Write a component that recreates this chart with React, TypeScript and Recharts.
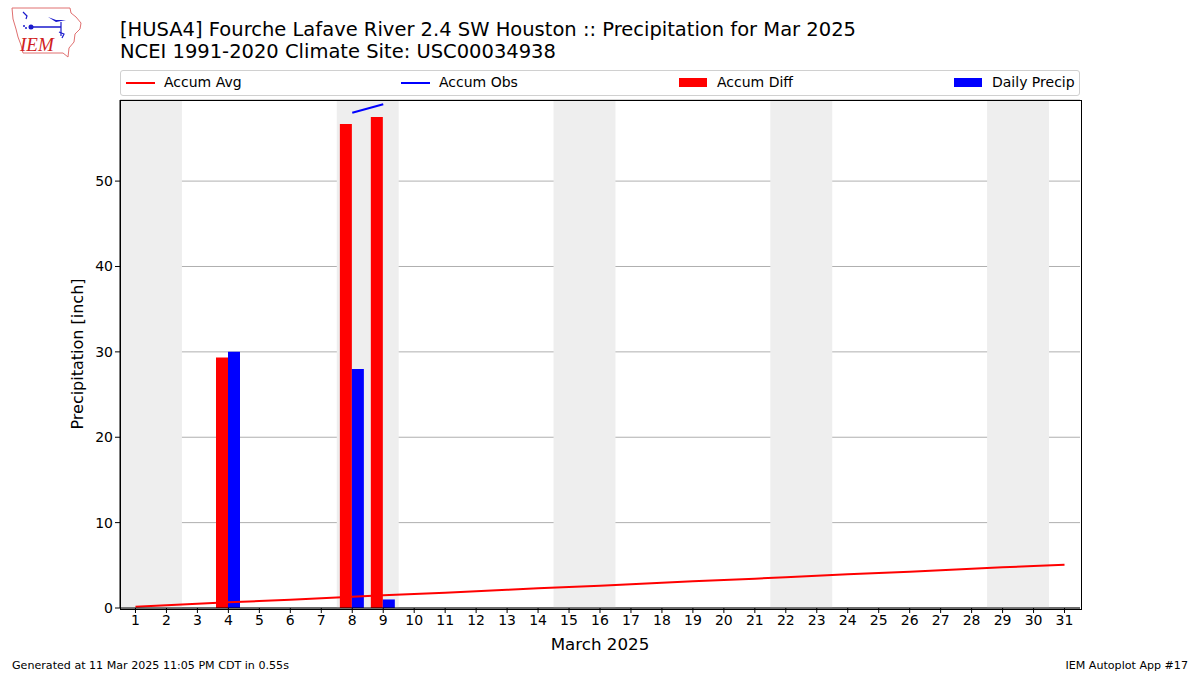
import {
  ComposedChart,
  Bar,
  Line,
  XAxis,
  YAxis,
  CartesianGrid,
  ReferenceArea
} from 'recharts'

const days = [
  1, 2, 3, 4, 5, 6, 7, 8, 9, 10, 11, 12, 13, 14, 15, 16, 17, 18, 19, 20, 21,
  22, 23, 24, 25, 26, 27, 28, 29, 30, 31
]

// climate average accumulation (inch)
const accumAvg = [
  0.16, 0.33, 0.49, 0.66, 0.82, 0.98, 1.15, 1.31, 1.48, 1.64, 1.8, 1.97, 2.13,
  2.3, 2.46, 2.62, 2.79, 2.95, 3.12, 3.28, 3.44, 3.61, 3.77, 3.94, 4.1, 4.26,
  4.43, 4.59, 4.76, 4.92, 5.08
]

// observed accumulation, only days 8-9 plotted
const accumObs: (number | null)[] = [
  null, null, null, null, null, null, null, 58.0, 59.0, null, null, null, null,
  null, null, null, null, null, null, null, null, null, null, null, null, null,
  null, null, null, null, null
]

const accumDiff: (number | null)[] = [
  null, null, null, 29.34, null, null, null, 56.7, 57.5, null, null, null,
  null, null, null, null, null, null, null, null, null, null, null, null, null,
  null, null, null, null, null, null
]

const dailyPrecip: (number | null)[] = [
  null, null, null, 30.0, null, null, null, 28.0, 1.0, null, null, null, null,
  null, null, null, null, null, null, null, null, null, null, null, null, null,
  null, null, null, null, null
]

const weekends = [
  [1, 2],
  [8, 9],
  [15, 16],
  [22, 23],
  [29, 30]
]

const yTicks = [0, 10, 20, 30, 40, 50]

const data = days.map((d, i) => ({
  day: d,
  avg: accumAvg[i],
  obs: accumObs[i],
  diff: accumDiff[i],
  precip: dailyPrecip[i]
}))

const font = 'DejaVu Sans, sans-serif'

const Logo = () => (
  <svg
    width={80}
    height={60}
    style={{ position: 'absolute', left: 4, top: 2 }}
  >
    <polygon
      points='8,6 66,6 67,11 72,15 77,21 76,27 71,32 70,40 65,46 64,55 59,51 19,51 17,43 14,35 12,27 9,17'
      fill='white'
      stroke='#e07070'
      strokeWidth={1}
    />
    <line x1={27} y1={25} x2={57} y2={25} stroke='#1a1acc' strokeWidth={1.5} />
    <circle cx={27} cy={25} r={2.5} fill='#1a1acc' />
    <path d='M19,10 L23,14 L22,17' stroke='#1a1acc' fill='none' strokeWidth={1.2} />
    <path d='M44,15 L52,18 L62,18 L52,20 Z' fill='#1a1acc' />
    <line x1={57} y1={20} x2={57} y2={34} stroke='#1a1acc' strokeWidth={1.2} />
    <path d='M55,30 L60,32 L58,36' stroke='#1a1acc' fill='none' strokeWidth={1.2} />
    <circle cx={20} cy={24} r={1} fill='#1a1acc' />
    <circle cx={22} cy={26} r={1} fill='#1a1acc' />
    <text
      x={16}
      y={49}
      fontFamily='Liberation Serif, serif'
      fontStyle='italic'
      fontSize={19}
      fill='#d02020'
    >
      IEM
    </text>
  </svg>
)

const LegendBox = () => {
  const item = (left: number, kind: 'line' | 'rect', color: string, label: string) => (
    <div key={label}>
      {kind === 'line' ? (
        <div
          style={{
            position: 'absolute',
            left,
            top: 11,
            width: 29,
            height: 2,
            background: color
          }}
        />
      ) : (
        <div
          style={{
            position: 'absolute',
            left,
            top: 7,
            width: 28,
            height: 9,
            background: color
          }}
        />
      )}
      <div
        style={{
          position: 'absolute',
          left: left + 38,
          top: 3,
          fontSize: 14,
          fontFamily: font,
          whiteSpace: 'nowrap'
        }}
      >
        {label}
      </div>
    </div>
  )
  return (
    <div
      style={{
        position: 'absolute',
        left: 120,
        top: 70,
        width: 958,
        height: 24,
        border: '1px solid #d0d0d0',
        borderRadius: 3,
        background: 'white'
      }}
    >
      {item(5, 'line', '#ff0000', 'Accum Avg')}
      {item(280, 'line', '#0000ff', 'Accum Obs')}
      {item(558, 'rect', '#ff0000', 'Accum Diff')}
      {item(833, 'rect', '#0000ff', 'Daily Precip')}
    </div>
  )
}

export default function App() {
  return (
    <div
      style={{
        position: 'absolute',
        left: 0,
        top: 0,
        width: 1200,
        height: 675,
        background: 'white',
        fontFamily: font
      }}
    >
      <Logo />
      <div
        style={{
          position: 'absolute',
          left: 120,
          top: 19,
          fontSize: 19.5,
          lineHeight: '22px',
          whiteSpace: 'nowrap'
        }}
      >
        [HUSA4] Fourche Lafave River 2.4 SW Houston :: Precipitation for Mar 2025
        <br />
        NCEI 1991-2020 Climate Site: USC00034938
      </div>
      <LegendBox />
      <div style={{ position: 'absolute', left: 0, top: 0 }}>
        <ComposedChart
          width={1200}
          height={675}
          data={data}
          margin={{ top: 100, right: 120, bottom: 27, left: 60 }}
          barCategoryGap='10%'
          barGap={0}
        >
          {weekends.map(([a, b]) => (
            <ReferenceArea
              key={a}
              x1={a}
              x2={b}
              fill='#eeeeee'
              fillOpacity={1}
              stroke='none'
            />
          ))}
          <CartesianGrid vertical={false} stroke='#b0b0b0' strokeWidth={1} />
          <XAxis
            dataKey='day'
            type='category'
            height={40}
            tickSize={5}
            interval={0}
            stroke='#000'
            tick={{ fill: '#000', fontSize: 14, fontFamily: font }}
          />
          <YAxis
            width={60}
            domain={[0, 59.5]}
            ticks={yTicks}
            tickSize={5}
            stroke='#000'
            allowDataOverflow
            tick={{ fill: '#000', fontSize: 14, fontFamily: font }}
          />
          <Bar dataKey='diff' fill='#ff0000' isAnimationActive={false} />
          <Bar dataKey='precip' fill='#0000ff' isAnimationActive={false} />
          <Line
            dataKey='avg'
            stroke='#ff0000'
            strokeWidth={2}
            dot={false}
            activeDot={false}
            isAnimationActive={false}
          />
          <Line
            dataKey='obs'
            stroke='#0000ff'
            strokeWidth={2}
            dot={false}
            activeDot={false}
            connectNulls={false}
            isAnimationActive={false}
          />
        </ComposedChart>
      </div>
      <div
        style={{
          position: 'absolute',
          left: 119.5,
          top: 99.5,
          width: 960,
          height: 508,
          border: '1px solid #000',
          pointerEvents: 'none'
        }}
      />
      <div
        style={{
          position: 'absolute',
          left: 77,
          top: 354,
          fontSize: 16,
          transform: 'translate(-50%, -50%) rotate(-90deg)',
          whiteSpace: 'nowrap'
        }}
      >
        Precipitation [inch]
      </div>
      <div
        style={{
          position: 'absolute',
          left: 600,
          top: 634,
          fontSize: 16.7,
          transform: 'translateX(-50%)',
          whiteSpace: 'nowrap'
        }}
      >
        March 2025
      </div>
      <div style={{ position: 'absolute', left: 12, top: 659, fontSize: 11.1 }}>
        Generated at 11 Mar 2025 11:05 PM CDT in 0.55s
      </div>
      <div style={{ position: 'absolute', right: 12, top: 659, fontSize: 11.1 }}>
        IEM Autoplot App #17
      </div>
    </div>
  )
}
